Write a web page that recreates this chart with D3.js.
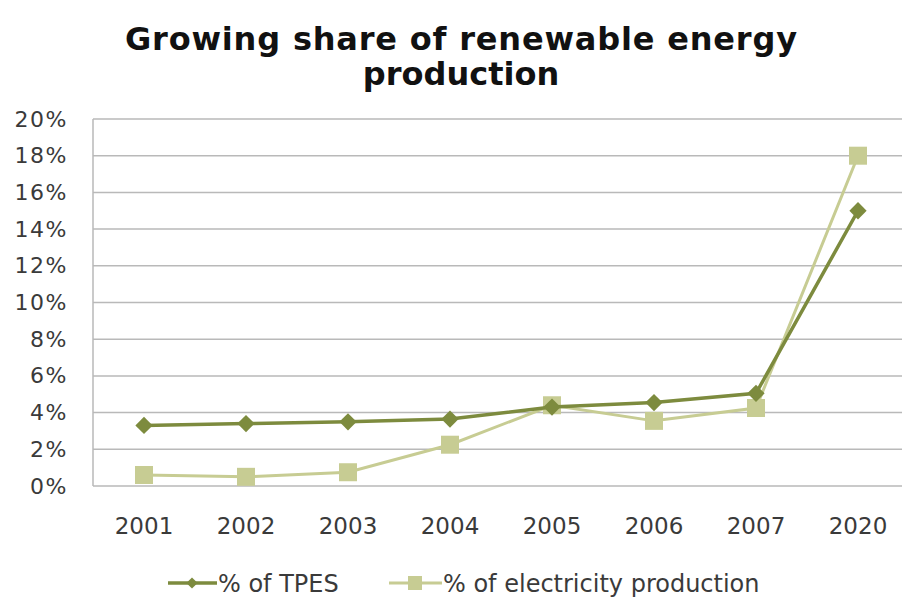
<!DOCTYPE html>
<html>
<head>
<meta charset="utf-8">
<script src="https://cdn.jsdelivr.net/npm/d3@7"></script>
<style>
  body { margin: 0; background: #fff; }
  svg { display: block; }
</style>
</head>
<body>
<section></section>
<script>
const years = ["2001", "2002", "2003", "2004", "2005", "2006", "2007", "2020"];
const tpes = [3.3, 3.4, 3.5, 3.65, 4.3, 4.55, 5.05, 15.0];
const electricity = [0.6, 0.5, 0.75, 2.25, 4.4, 3.55, 4.25, 18.0];
const yTicks = [0, 2, 4, 6, 8, 10, 12, 14, 16, 18, 20];

const width = 902;
const height = 600;
const margin = { top: 119, right: -7, bottom: 114, left: 93 };

const tpesColor = "#7d8b3e";
const elecColor = "#c7cc93";
const textColor = "#3a3a3a";

const svg = d3.select("section")
    .append("svg")
    .attr("width", width)
    .attr("height", height);

// titel, twee regels
const title = svg.append("text")
    .attr("text-anchor", "middle")
    .attr("font-family", "DejaVu Sans")
    .attr("font-weight", "bold")
    .attr("font-size", 32)
    .attr("fill", "#111");
title.append("tspan").attr("x", 461).attr("y", 50)
    .attr("textLength", 672).attr("lengthAdjust", "spacing")
    .text("Growing share of renewable energy");
title.append("tspan").attr("x", 461).attr("y", 85).text("production");

const x = d3.scaleBand()
    .domain(years)
    .range([margin.left, width - margin.right]);

const y = d3.scaleLinear()
    .domain([0, 20])
    .range([height - margin.bottom, margin.top]);

// grid
svg.append("g")
    .selectAll("line")
    .data(yTicks)
    .join("line")
    .attr("x1", margin.left)
    .attr("x2", width - margin.right)
    .attr("y1", d => y(d))
    .attr("y2", d => y(d))
    .attr("stroke", "#b9b9b9")
    .attr("stroke-width", 1.5);

svg.append("line")
    .attr("x1", margin.left).attr("x2", margin.left)
    .attr("y1", y(20)).attr("y2", y(0))
    .attr("stroke", "#b9b9b9")
    .attr("stroke-width", 1.5);

const yAxis = d3.axisLeft(y)
    .tickValues(yTicks)
    .tickFormat(d => d + "%")
    .tickSize(0)
    .tickPadding(25);

svg.append("g")
    .attr("transform", `translate(${margin.left}, 0)`)
    .call(yAxis)
    .call(g => g.select(".domain").remove())
    .selectAll("text")
    .attr("font-family", "DejaVu Sans")
    .attr("font-size", 22)
    .attr("letter-spacing", 1.5)
    .attr("fill", textColor);

const xAxis = d3.axisBottom(x).tickSize(0).tickPadding(32);

svg.append("g")
    .attr("transform", `translate(0, ${y(0)})`)
    .call(xAxis)
    .call(g => g.select(".domain").remove())
    .selectAll("text")
    .attr("font-family", "DejaVu Sans")
    .attr("font-size", 23)
    .attr("fill", textColor);

const cx = d => x(d) + x.bandwidth() / 2;

const line = d3.line()
    .x(d => cx(d[0]))
    .y(d => y(d[1]));

const tpesData = years.map((d, i) => [d, tpes[i]]);
const elecData = years.map((d, i) => [d, electricity[i]]);

// electricity eerst, tpes erboven
svg.append("path")
    .datum(elecData)
    .attr("d", line)
    .attr("fill", "none")
    .attr("stroke", elecColor)
    .attr("stroke-width", 3);

svg.append("g")
    .selectAll("rect")
    .data(elecData)
    .join("rect")
    .attr("x", d => cx(d[0]) - 9)
    .attr("y", d => y(d[1]) - 9)
    .attr("width", 18)
    .attr("height", 18)
    .attr("fill", elecColor);

svg.append("path")
    .datum(tpesData)
    .attr("d", line)
    .attr("fill", "none")
    .attr("stroke", tpesColor)
    .attr("stroke-width", 3.5);

const diamond = d3.symbol().type(d3.symbolDiamond2).size(190);

svg.append("g")
    .selectAll("path")
    .data(tpesData)
    .join("path")
    .attr("transform", d => `translate(${cx(d[0])}, ${y(d[1])})`)
    .attr("d", diamond)
    .attr("fill", tpesColor);

// legend
const legend = svg.append("g")
    .attr("font-family", "DejaVu Sans")
    .attr("font-size", 24)
    .attr("fill", textColor);

const ly = 583;
legend.append("line")
    .attr("x1", 168).attr("x2", 217).attr("y1", ly).attr("y2", ly)
    .attr("stroke", tpesColor).attr("stroke-width", 3.5);
legend.append("path")
    .attr("transform", `translate(192, ${ly})`)
    .attr("d", d3.symbol().type(d3.symbolDiamond2).size(80))
    .attr("fill", tpesColor);
legend.append("text").attr("x", 218).attr("y", ly + 9).text("% of TPES");

legend.append("line")
    .attr("x1", 389).attr("x2", 442).attr("y1", ly).attr("y2", ly)
    .attr("stroke", elecColor).attr("stroke-width", 3);
legend.append("rect")
    .attr("x", 408).attr("y", ly - 7).attr("width", 14).attr("height", 14)
    .attr("fill", elecColor);
legend.append("text").attr("x", 443).attr("y", ly + 9).text("% of electricity production");
</script>
</body>
</html>
